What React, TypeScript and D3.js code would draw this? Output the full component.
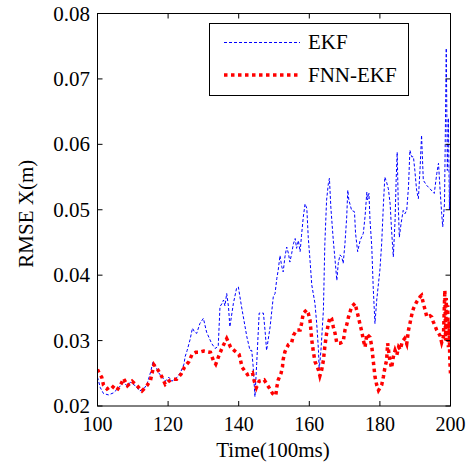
import React from "react";
import * as d3 from "d3";

const xTicks = [100, 120, 140, 160, 180, 200];
const yTicks = [0.02, 0.03, 0.04, 0.05, 0.06, 0.07, 0.08];

const ekfX = [100.0,100.8,101.7,103.1,104.5,106.0,107.4,108.3,109.3,110.7,111.9,113.1,114.0,115.0,115.7,116.4,117.3,118.3,119.2,120.2,121.1,122.6,123.5,124.5,124.8,125.4,126.2,126.9,127.5,128.1,129.0,130.0,130.9,132.3,133.3,134.2,134.7,135.2,135.7,136.1,136.6,137.1,137.5,138.5,139.4,139.9,140.8,142.3,143.2,143.7,144.1,144.6,145.1,145.8,147.0,147.5,147.9,148.9,149.8,150.3,150.8,151.2,151.7,152.2,152.6,153.1,153.6,154.1,154.5,155.0,155.5,156.0,156.4,156.9,157.4,157.8,158.3,158.8,159.3,159.7,160.2,160.7,161.6,162.1,162.6,162.8,163.3,164.0,164.4,164.9,165.4,165.7,166.1,166.8,167.3,167.8,168.2,168.7,169.2,169.6,170.1,170.6,170.9,171.2,172.0,172.8,173.1,173.7,174.4,175.3,175.8,176.3,176.5,176.9,177.2,177.7,178.1,178.6,179.1,180.0,180.5,181.0,181.4,181.9,182.4,182.9,183.3,183.8,184.3,184.6,184.9,185.2,185.5,186.0,186.6,187.1,187.6,188.1,188.5,189.0,189.5,189.9,190.4,190.9,191.4,191.8,192.3,193.3,194.2,195.4,196.1,196.6,197.0,197.5,197.8,198.3,198.5,198.8,199.1,199.4,199.7,200.0];
const ekfY = [0.0244,0.0228,0.0219,0.0217,0.0220,0.0228,0.0236,0.0231,0.0236,0.0231,0.0223,0.0226,0.0233,0.0251,0.0267,0.0262,0.0251,0.0244,0.0238,0.0244,0.0238,0.0244,0.0251,0.0264,0.0275,0.0285,0.0301,0.0319,0.0313,0.0311,0.0326,0.0334,0.0313,0.0296,0.0288,0.0291,0.0352,0.0356,0.0362,0.0353,0.0372,0.0352,0.0321,0.0357,0.0380,0.0382,0.0352,0.0306,0.0285,0.0285,0.0260,0.0214,0.0265,0.0342,0.0342,0.0313,0.0285,0.0321,0.0367,0.0372,0.0395,0.0408,0.0430,0.0413,0.0405,0.0428,0.0443,0.0433,0.0420,0.0433,0.0448,0.0456,0.0441,0.0453,0.0436,0.0461,0.0489,0.0509,0.0502,0.0458,0.0423,0.0385,0.0357,0.0326,0.0285,0.0255,0.0285,0.0347,0.0448,0.0515,0.0540,0.0548,0.0504,0.0453,0.0423,0.0392,0.0418,0.0431,0.0428,0.0418,0.0448,0.0489,0.0530,0.0515,0.0499,0.0497,0.0464,0.0436,0.0453,0.0464,0.0490,0.0527,0.0515,0.0525,0.0484,0.0443,0.0382,0.0326,0.0362,0.0408,0.0448,0.0509,0.0550,0.0542,0.0532,0.0509,0.0469,0.0428,0.0484,0.0545,0.0588,0.0509,0.0458,0.0479,0.0499,0.0494,0.0499,0.0535,0.0591,0.0581,0.0581,0.0560,0.0530,0.0517,0.0565,0.0614,0.0545,0.0537,0.0532,0.0525,0.0555,0.0571,0.0535,0.0494,0.0474,0.0509,0.0600,0.0747,0.0560,0.0640,0.0500,0.0580];

const fnnX = [100.0,100.5,101.2,101.7,102.7,104.0,105.5,106.6,107.4,108.5,109.8,111.2,112.6,114.0,115.0,115.5,116.0,117.0,117.8,118.3,119.2,120.2,121.1,122.4,123.7,124.6,125.9,126.8,127.8,128.7,130.1,132.0,132.8,133.5,134.4,135.4,136.6,137.7,138.7,140.1,141.0,142.5,143.9,144.4,145.0,145.8,147.2,148.6,149.6,150.5,150.8,151.2,152.0,152.4,152.6,153.1,154.1,155.0,155.5,156.4,157.4,157.8,158.3,159.3,159.7,160.2,160.7,161.1,161.6,162.6,163.0,163.5,164.0,164.4,164.9,165.4,165.9,166.3,166.8,167.3,167.8,168.7,169.6,170.1,170.6,171.1,172.0,173.0,173.4,173.9,174.4,174.9,175.3,175.8,176.3,177.2,177.7,178.1,178.6,179.1,179.6,180.5,181.0,181.4,181.9,182.2,182.8,183.3,183.8,184.3,184.8,185.3,185.8,186.3,187.0,187.6,188.1,188.5,189.0,189.5,190.4,191.4,191.8,192.3,192.8,193.3,194.2,194.7,195.1,196.1,197.0,197.5,198.0,198.4,198.6,198.8,199.0,199.2,199.4,199.6,199.8,200.0];
const fnnY = [0.0256,0.0250,0.0244,0.0232,0.0226,0.0231,0.0224,0.0233,0.0242,0.0231,0.0238,0.0231,0.0223,0.0231,0.0239,0.0251,0.0263,0.0256,0.0249,0.0244,0.0233,0.0238,0.0241,0.0241,0.0249,0.0259,0.0268,0.0279,0.0282,0.0282,0.0284,0.0282,0.0270,0.0264,0.0277,0.0290,0.0303,0.0290,0.0285,0.0279,0.0259,0.0248,0.0251,0.0238,0.0228,0.0238,0.0240,0.0228,0.0219,0.0216,0.0229,0.0240,0.0250,0.0260,0.0271,0.0283,0.0294,0.0297,0.0308,0.0316,0.0316,0.0326,0.0342,0.0347,0.0342,0.0331,0.0301,0.0285,0.0268,0.0255,0.0246,0.0255,0.0270,0.0291,0.0311,0.0326,0.0336,0.0334,0.0321,0.0311,0.0296,0.0296,0.0298,0.0316,0.0324,0.0336,0.0352,0.0357,0.0347,0.0336,0.0324,0.0313,0.0301,0.0290,0.0310,0.0305,0.0291,0.0270,0.0245,0.0232,0.0224,0.0232,0.0245,0.0258,0.0270,0.0296,0.0270,0.0258,0.0275,0.0285,0.0278,0.0290,0.0286,0.0298,0.0303,0.0295,0.0316,0.0326,0.0339,0.0349,0.0359,0.0367,0.0369,0.0357,0.0347,0.0336,0.0338,0.0336,0.0329,0.0316,0.0308,0.0297,0.0306,0.0377,0.0300,0.0365,0.0311,0.0354,0.0290,0.0330,0.0270,0.0250];

const W = 473, H = 470;
const left = 97.5, right = 450.5, top = 13.5, bottom = 406;

export default function App() {
  const x = d3.scaleLinear().domain([100, 200]).range([left, right]);
  const y = d3.scaleLinear().domain([0.02, 0.08]).range([bottom, top]);
  const line = d3.line<[number, number]>().x(d => x(d[0])).y(d => y(d[1]));
  const ekf = line(ekfX.map((v, i) => [v, ekfY[i]] as [number, number])) || "";
  const fnn = line(fnnX.map((v, i) => [v, fnnY[i]] as [number, number])) || "";
  const font = "'Liberation Serif', 'Times New Roman', serif";
  const tl = 5;
  return (
    <svg width={W} height={H} style={{ position: "absolute", left: 0, top: 0, background: "#fff" }} fontFamily={font}>
      <defs>
        <clipPath id="plot"><rect x={left} y={top} width={right - left} height={bottom - top} /></clipPath>
      </defs>
      <rect x={0} y={0} width={W} height={H} fill="#fff" />
      <g clipPath="url(#plot)">
        <path d={ekf} fill="none" stroke="#0000ff" strokeWidth={1} strokeDasharray="3,2" />
        <path d={fnn} fill="none" stroke="#ff0000" strokeWidth={3.5} strokeDasharray="3.5,3.5" />
      </g>
      <rect x={left} y={top} width={right - left} height={bottom - top} fill="none" stroke="#000" strokeWidth={1} />
      {xTicks.map(t => (
        <g key={"x" + t}>
          <line x1={x(t)} x2={x(t)} y1={bottom} y2={bottom - tl} stroke="#000" />
          <line x1={x(t)} x2={x(t)} y1={top} y2={top + tl} stroke="#000" />
          <text x={x(t)} y={431} fontSize={20} textAnchor="middle" fill="#000">{t}</text>
        </g>
      ))}
      {yTicks.map(t => (
        <g key={"y" + t}>
          <line x1={left} x2={left + tl} y1={y(t)} y2={y(t)} stroke="#000" />
          <line x1={right} x2={right - tl} y1={y(t)} y2={y(t)} stroke="#000" />
          <text x={90} y={y(t) + 7} fontSize={21} textAnchor="end" fill="#000">{t.toFixed(2)}</text>
        </g>
      ))}
      <text x={273} y={457} fontSize={21} textAnchor="middle" fill="#000">Time(100ms)</text>
      <text transform={`translate(33,${(top + bottom) / 2 + 4}) rotate(-90)`} fontSize={21} textAnchor="middle" fill="#000">RMSE X(m)</text>
      <g>
        <rect x={209.5} y={23.5} width={199} height={72} fill="#fff" stroke="#000" strokeWidth={1} />
        <line x1={224} x2={300} y1={42.5} y2={42.5} stroke="#0000ff" strokeWidth={1} strokeDasharray="3,2" />
        <line x1={224} x2={300} y1={75} y2={75} stroke="#ff0000" strokeWidth={3.5} strokeDasharray="3.5,3.5" />
        <text x={308} y={49} fontSize={21} fill="#000">EKF</text>
        <text x={308} y={81.5} fontSize={21} fill="#000">FNN-EKF</text>
      </g>
    </svg>
  );
}
